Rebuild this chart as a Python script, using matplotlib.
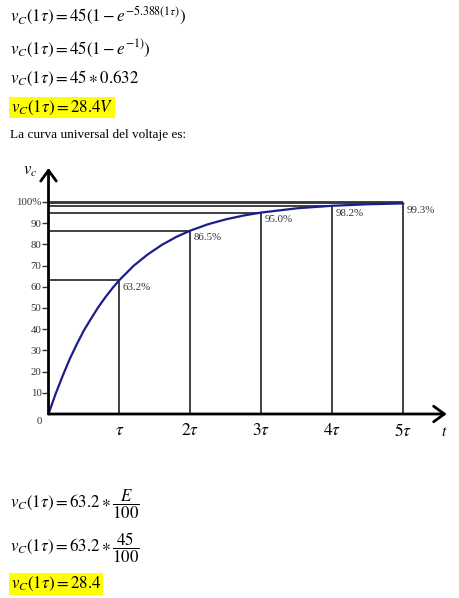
import matplotlib
matplotlib.use("Agg")
import matplotlib.pyplot as plt

plt.rcParams['mathtext.fontset'] = 'stix'
plt.rcParams['font.family'] = ['Liberation Serif', 'DejaVu Serif']

# ---- data ----
t_curve = [0, 0.1, 0.2, 0.3, 0.4, 0.5, 0.6, 0.7, 0.8, 0.9, 1.0, 1.2, 1.4, 1.6,
           1.8, 2.0, 2.25, 2.5, 2.75, 3.0, 3.5, 4.0, 4.5, 5.0]
v_curve = [0, 9.5, 18, 26, 33, 39.5, 45, 50.3, 55, 59.3, 63.2, 69.9, 75.3, 79.8,
           83.5, 86.5, 89.5, 91.8, 93.6, 95.0, 97.0, 98.2, 98.9, 99.3]
mark_t = [1, 2, 3, 4, 5]
mark_v = [63.2, 86.5, 95.0, 98.2, 99.3]
mark_labels = ['63.2%', '86.5%', '95.0%', '98.2%', '99.3%']
x_tick_labels = [r'$\tau$', r'$2\tau$', r'$3\tau$', r'$4\tau$', r'$5\tau$']
y_ticks = [10, 20, 30, 40, 50, 60, 70, 80, 90, 100]
y_tick_labels = ['10', '20', '30', '40', '50', '60', '70', '80', '90', '100%']
top_line_level = 100
top_line_end = 5

W, H = 460, 598
fig = plt.figure(figsize=(W / 100, H / 100), dpi=100)
fig.patch.set_facecolor('white')

def fx(px):
    return px / W

def fy(py):
    return 1 - py / H

# ---- chart ----
ax_left, ax_right, ax_bottom, ax_top = 48.5, 446.7, 414, 168
ax = fig.add_axes([fx(ax_left), fy(ax_bottom), (ax_right - ax_left) / W,
                   (ax_bottom - ax_top) / H])
ax.set_xlim(0, 5.61)
ax.set_ylim(0, 116)
ax.patch.set_alpha(0)
for s in ax.spines.values():
    s.set_visible(False)

guide = '#333333'
# horizontal guide lines
ax.hlines(mark_v, 0, mark_t, colors=guide, lw=1.3)
ax.hlines([top_line_level], 0, top_line_end, colors=guide, lw=1.3)
# vertical guide lines
ax.vlines(mark_t, 0, mark_v, colors=guide, lw=1.3)

# curve
ax.plot(t_curve, v_curve, color='#1c1c8a', lw=1.6, solid_capstyle='round', zorder=3)

# point labels
for t, v, lab in zip(mark_t, mark_v, mark_labels):
    ax.annotate(lab, (t, v), xytext=(2, -2), textcoords='offset points',
                ha='left', va='top', fontsize=7.8, color='#333333')

# axes with arrows
arrow = dict(arrowstyle='->,head_length=0.55,head_width=0.4', lw=2.0,
             color='black', shrinkA=0, shrinkB=0, mutation_scale=14)
ax.annotate('', xy=(5.61, 0), xytext=(0, 0), arrowprops=arrow, annotation_clip=False)
ax.annotate('', xy=(0, 116), xytext=(0, 0), arrowprops=arrow, annotation_clip=False)

# ticks
ax.set_xticks(mark_t)
ax.set_xticklabels(x_tick_labels, fontsize=12.5)
ax.tick_params(axis='x', length=0, pad=6.5)
ax.set_yticks(y_ticks)
ax.set_yticklabels(y_tick_labels, fontsize=7.8, color='#333333')
ax.tick_params(axis='y', length=4, width=1, color='#333333', pad=1, direction='out')
ax.annotate('0', (0, 0), xytext=(-5, -2), textcoords='offset points',
            ha='right', va='top', fontsize=7.8, color='#333333')

# axis names
fig.text(fx(30), fy(171), r'$v_c$', fontsize=12, ha='center', va='center')
fig.text(fx(444), fy(432), r'$t$', fontsize=11, ha='center', va='center')

# ---- document text ----
hl = dict(boxstyle='square,pad=0.1', fc='#ffff00', ec='none')
eq_fs = 12.2
fig.text(fx(10), fy(16), r'$v_C(1\tau) = 45\left(1 - e^{-5.388(1\tau)}\right)$',
         fontsize=eq_fs, va='center', ha='left')
fig.text(fx(10), fy(48), r'$v_C(1\tau) = 45\left(1 - e^{-1)}\right)$',
         fontsize=eq_fs, va='center', ha='left')
fig.text(fx(10), fy(78), r'$v_C(1\tau) = 45 \ast 0.632$',
         fontsize=eq_fs, va='center', ha='left')
fig.text(fx(11), fy(107.5), r'$v_C(1\tau) = 28.4V$',
         fontsize=eq_fs, va='center', ha='left', bbox=hl)
fig.text(fx(10), fy(135), 'La curva universal del voltaje es:',
         fontsize=9.5, va='center', ha='left', family=['Liberation Serif'])

fig.text(fx(10), fy(504), r'$v_C(1\tau) = 63.2 \ast \dfrac{E}{100}$',
         fontsize=eq_fs, va='center', ha='left')
fig.text(fx(10), fy(548), r'$v_C(1\tau) = 63.2 \ast \dfrac{45}{100}$',
         fontsize=eq_fs, va='center', ha='left')
fig.text(fx(11), fy(584), r'$v_C(1\tau) = 28.4$',
         fontsize=eq_fs, va='center', ha='left', bbox=hl)

fig.savefig('out.png', dpi=100, facecolor='white')
